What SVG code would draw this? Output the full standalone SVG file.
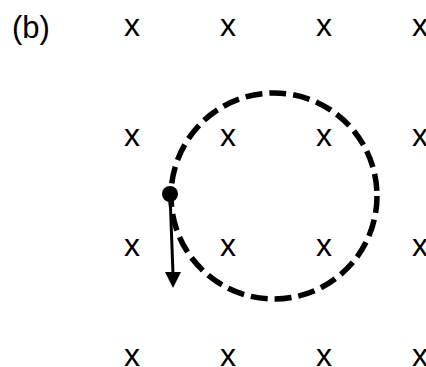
<svg xmlns="http://www.w3.org/2000/svg" width="426" height="367" viewBox="0 0 426 367">
<style>
.t{font-family:"Liberation Sans",Arial,sans-serif;font-size:32px;fill:#000;text-anchor:middle}
.lbl{font-family:"Liberation Sans",Arial,sans-serif;font-size:31px;fill:#000}
.orbit{fill:none;stroke:#000;stroke-width:5.5;stroke-dasharray:17 7}
</style>
<rect width="426" height="367" fill="#fff"/>
<text class="lbl" x="12" y="38">(b)</text>
<g id="field">
<text class="t" x="132" y="36">x</text><text class="t" x="228" y="36">x</text><text class="t" x="324" y="36">x</text><text class="t" x="420" y="36">x</text>
<text class="t" x="132" y="146">x</text><text class="t" x="228" y="146">x</text><text class="t" x="324" y="146">x</text><text class="t" x="420" y="146">x</text>
<text class="t" x="132" y="256">x</text><text class="t" x="228" y="256">x</text><text class="t" x="324" y="256">x</text><text class="t" x="420" y="256">x</text>
<text class="t" x="132" y="366">x</text><text class="t" x="228" y="366">x</text><text class="t" x="324" y="366">x</text><text class="t" x="420" y="366">x</text>
</g>
<g id="orbit">
<circle class="orbit" cx="274" cy="196" r="103"/>
</g>
<g id="connectors">
<line x1="170" y1="194" x2="173" y2="274" stroke="#000" stroke-width="3"/>
<polygon points="165,272 181,272 173,288" fill="#000"/>
</g>
<g id="particle">
<circle cx="170" cy="194" r="8" fill="#000"/>
</g>
</svg>
